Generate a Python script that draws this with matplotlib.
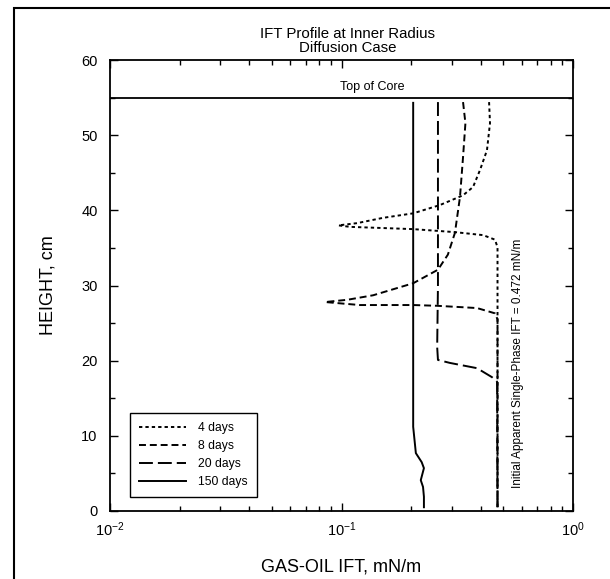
import matplotlib
matplotlib.use("Agg")
import matplotlib.pyplot as plt
from matplotlib.ticker import MultipleLocator, LogLocator

plt.rcParams['font.family'] = ['Liberation Sans', 'DejaVu Sans']
plt.rcParams['lines.scale_dashes'] = False

# lecturas del grafico: IFT (mN/m) contra altura (cm)
days4_ift = [0.434, 0.438, 0.425, 0.397, 0.370, 0.335, 0.266, 0.204, 0.151, 0.117,
             0.097, 0.109, 0.204, 0.309, 0.409, 0.460, 0.472, 0.472]
days4_h = [54.4, 51.6, 48.0, 45.4, 43.1, 42.0, 40.7, 39.6, 39.0, 38.3,
           38.0, 37.8, 37.5, 37.1, 36.7, 36.1, 35.1, 0.5]

days8_ift = [0.335, 0.343, 0.335, 0.325, 0.309, 0.288, 0.261, 0.204, 0.137, 0.106,
             0.085, 0.120, 0.204, 0.259, 0.385, 0.460, 0.472, 0.472]
days8_h = [54.4, 51.6, 47.1, 41.8, 37.0, 34.1, 32.1, 30.3, 28.7, 28.1,
           27.8, 27.4, 27.4, 27.3, 27.0, 26.3, 25.5, 0.5]

days20_ift = [0.261, 0.261, 0.259, 0.261, 0.294, 0.385, 0.447, 0.470, 0.472]
days20_h = [54.4, 30.0, 21.8, 20.1, 19.7, 19.0, 17.8, 17.2, 0.5]

days150_ift = [0.204, 0.204, 0.2095, 0.222, 0.227, 0.220, 0.225, 0.227, 0.227]
days150_h = [54.3, 11.2, 7.7, 6.5, 5.7, 4.1, 3.2, 1.9, 0.5]

top_of_core = 55
initial_ift = 0.472

fig = plt.figure(figsize=(6.10, 5.79), dpi=100)
ax = fig.add_axes([110/610, 1-511/579, 463/610, 451/579])

lw = 1.4
ax.plot(days4_ift, days4_h, color="black", lw=lw, dashes=(2.4, 2.2), label="4 days")
ax.plot(days8_ift, days8_h, color="black", lw=lw, dashes=(5.0, 2.8), label="8 days")
ax.plot(days20_ift, days20_h, color="black", lw=lw, dashes=(10.0, 3.6), label="20 days")
ax.plot(days150_ift, days150_h, color="black", lw=lw, label="150 days")

# linea de tope del nucleo
ax.axhline(top_of_core, color="black", lw=1.3)
ax.text(0.1355, 56.4, "Top of Core", ha="center", va="center", fontsize=9)

ax.text(0.58, 19.7, f"Initial Apparent Single-Phase IFT = {initial_ift} mN/m",
        rotation=90, ha="center", va="center", fontsize=8.5)

ax.set_xscale("log")
ax.set_xlim(1e-2, 1e0)
ax.set_ylim(0, 60)
ax.yaxis.set_major_locator(MultipleLocator(10))
ax.yaxis.set_minor_locator(MultipleLocator(5))
ax.xaxis.set_major_locator(LogLocator(base=10))
ax.xaxis.set_minor_locator(LogLocator(base=10, subs=range(2, 10)))

ax.tick_params(which="both", direction="in", top=True, right=True, width=1.0)
ax.tick_params(which="major", length=6)
ax.tick_params(which="minor", length=3.5)
ax.tick_params(axis="y", labelsize=10.5, pad=9)
ax.tick_params(axis="x", labelsize=10.5, pad=7)
for s in ax.spines.values():
    s.set_linewidth(1.3)

ax.set_xlabel("GAS-OIL IFT, mN/m", fontsize=13, labelpad=14)
ax.set_ylabel("HEIGHT, cm", fontsize=13, labelpad=18)

fig.text(348/610, 1-34.5/579, "IFT Profile at Inner Radius", ha="center", va="center", fontsize=10.8)
fig.text(348/610, 1-47.5/579, "Diffusion Case", ha="center", va="center", fontsize=10.8)

leg = ax.legend(loc="lower left", bbox_to_anchor=(0.043, 0.031), borderaxespad=0,
                fontsize=8.7, handlelength=3.9, labelspacing=0.5, fancybox=False,
                edgecolor="black", framealpha=1, borderpad=0.75, handletextpad=1.0)
leg.get_frame().set_linewidth(1.0)

# marco alrededor de la figura
fig.add_artist(plt.Rectangle((14/610, -0.1), 2, 1-8/579+0.1, transform=fig.transFigure,
                             fill=False, lw=1.5, color="black"))

fig.savefig("out.png", dpi=100)
